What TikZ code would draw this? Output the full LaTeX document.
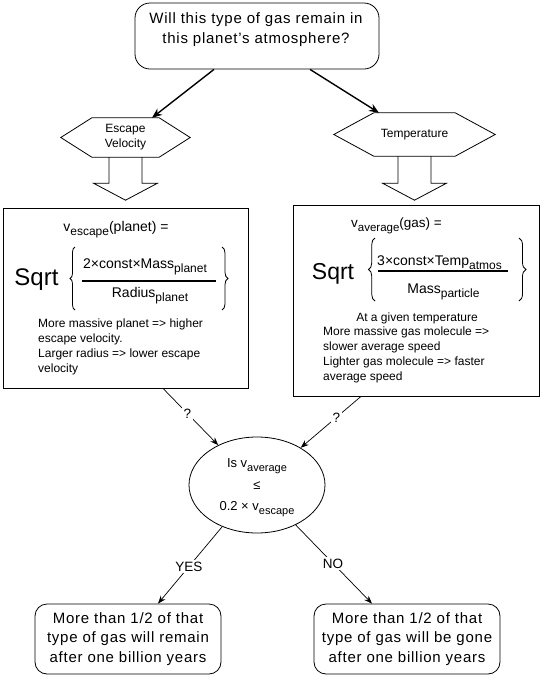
\documentclass[tikz,border=0pt]{standalone}
\usepackage{fontspec}
\setmainfont{Liberation Sans}
\newfontfamily\spaced[LetterSpace=5]{Liberation Sans}
\usetikzlibrary{arrows.meta,decorations.pathreplacing,shapes.geometric}
\newcommand\lowsub[2][12]{\raisebox{-4pt}[0pt][0pt]{\fontsize{#1}{#1}\selectfont #2}}
\begin{document}
\begin{tikzpicture}[x=1pt,y=-1pt,
  bigtext/.style={font=\spaced\fontsize{15}{19.5}\selectfont, align=center},
  roundbox/.style={draw, rounded corners=12pt, line width=0.8pt, inner sep=0pt},
  plainbox/.style={draw, line width=0.8pt, inner sep=0pt},
  hexline/.style={line width=0.8pt},
  hextext/.style={inner sep=0pt, font=\fontsize{12}{15}\selectfont, align=center},
  thickarrow/.style={line width=1.4pt, -{Stealth[length=10pt,width=8pt]}},
  thinarrow/.style={line width=0.7pt, -{Stealth[length=8pt,width=6pt]}},
  lbl/.style={fill=white, inner sep=2pt, font=\fontsize{13.5}{13.5}\selectfont},
  small/.style={font=\fontsize{12}{15}\selectfont, align=left, inner sep=0pt},
  formula/.style={font=\fontsize{14}{14}\selectfont, inner sep=0pt},
  bracestyle/.style={decorate, line width=0.8pt},
  fracline/.style={line width=1.3pt}
]
\useasboundingbox (0,0) rectangle (540,678);

% top question
\node[roundbox, rounded corners=15pt, minimum width=244pt, minimum height=66pt] (q) at (257,36) {};
\node[bigtext, inner sep=0pt] (qt) at (256,29.4) {Will this type of gas remain in\\this planet’s atmosphere?};

% hexagons
\node[hextext, minimum width=129pt, minimum height=39pt] (ev) at (125.5,137.5) {Escape\\Velocity};
\draw[hexline] (ev.west) -- ([xshift=31pt]ev.north west) -- ([xshift=-31pt]ev.north east) -- (ev.east) -- ([xshift=-31pt]ev.south east) -- ([xshift=31pt]ev.south west) -- cycle;
\node[hextext, minimum width=161pt, minimum height=43pt] (tp) at (414.5,134.5) {Temperature};
\draw[hexline] (tp.west) -- ([xshift=40pt]tp.north west) -- ([xshift=-40pt]tp.north east) -- (tp.east) -- ([xshift=-40pt]tp.south east) -- ([xshift=40pt]tp.south west) -- cycle;

\draw[thickarrow] ([xshift=-43pt]q.south) -- ([xshift=26.5pt]ev.north);
\draw[thickarrow] ([xshift=53pt]q.south) -- ([xshift=-35.5pt]tp.north);

% block arrows
\draw[hexline] ([xshift=-16.5pt]ev.south) -- ++(0,26) -- ++(-15.5,0) -- ++(32,17) -- ++(32,-17) -- ++(-15.5,0) -- ++(0,-26);
\draw[hexline] ([xshift=-16.5pt]tp.south) -- ++(0,27) -- ++(-15.5,0) -- ++(32,17) -- ++(32,-17) -- ++(-15.5,0) -- ++(0,-27);

% left big box
\node[plainbox, minimum width=245pt, minimum height=180pt] (lb) at (125.5,298) {};
\node[formula, anchor=base] (ve) at (116,231) {v\lowsub{escape}(planet) =};
\node[font=\fontsize{24}{24}\selectfont, inner sep=0pt] (sq1) at (36.5,280) {Sqrt};
\draw[bracestyle, decoration={brace, amplitude=5pt}] (75,310) -- (75,247);
\draw[bracestyle, decoration={brace, amplitude=6pt}] (222,247) -- (222,310);
\node[formula, anchor=base] (num1) at (145,268) {2×const×Mass\lowsub{planet}};
\draw[fracline] (82,281) -- (216,281);
\node[formula, anchor=base] (den1) at (150,297) {Radius\lowsub{planet}};
\node[small, anchor=north west] (lt) at (38,319) {More massive planet => higher\\escape velocity.\\Larger radius => lower escape\\velocity};

% right big box
\node[plainbox, minimum width=246pt, minimum height=191pt] (rb) at (416,300.5) {};
\node[font=\fontsize{13.5}{13.5}\selectfont, inner sep=0pt, anchor=base] (va) at (396.5,227) {v\lowsub[11.5]{average}(gas) =};
\node[font=\fontsize{23}{23}\selectfont, inner sep=0pt] (sq2) at (333,274) {Sqrt};
\draw[bracestyle, decoration={brace, amplitude=6.5pt}] (375,301) -- (375,238);
\draw[bracestyle, decoration={brace, amplitude=7pt}] (519,238) -- (519,301);
\node[formula, anchor=base] (num2) at (439.5,265) {3×const×Temp\lowsub{atmos}};
\draw[fracline] (378,271) -- (508,271);
\node[formula, anchor=base] (den2) at (443.5,293) {Mass\lowsub{particle}};
\node[font=\fontsize{12}{15}\selectfont, inner sep=0pt] (rt0) at (417,318) {At a given temperature};
\node[small, anchor=north west] (rt) at (323,327) {More massive gas molecule =>\\slower average speed\\Lighter gas molecule => faster\\average speed};

% decision ellipse
\node[draw, ellipse, minimum width=136pt, minimum height=96pt, inner sep=0pt, line width=0.8pt, align=center, font=\fontsize{13}{21.5}\selectfont] (e) at (257,485) {Is v\lowsub[11]{average}\\≤\\0.2 × v\lowsub[11]{escape}};

\draw[thinarrow] ([xshift=37.5pt]lb.south) -- node[lbl, pos=0.44] {?} (e);
\draw[thinarrow] ([xshift=-55pt]rb.south) -- node[lbl, pos=0.41] {?} (e);

% outcomes
\node[roundbox, bigtext, minimum width=186pt, minimum height=70pt] (bl) at (128,639) {More than 1/2 of that\\type of gas will remain\\after one billion years};
\node[roundbox, bigtext, minimum width=186pt, minimum height=70pt] (br) at (407,639) {More than 1/2 of that\\type of gas will be gone\\after one billion years};

\draw[thinarrow] (e) -- node[lbl, pos=0.52] {YES} ([xshift=30pt]bl.north);
\draw[thinarrow] (e) -- node[lbl, pos=0.49] {NO} ([xshift=-35pt]br.north);
\end{tikzpicture}
\end{document}
